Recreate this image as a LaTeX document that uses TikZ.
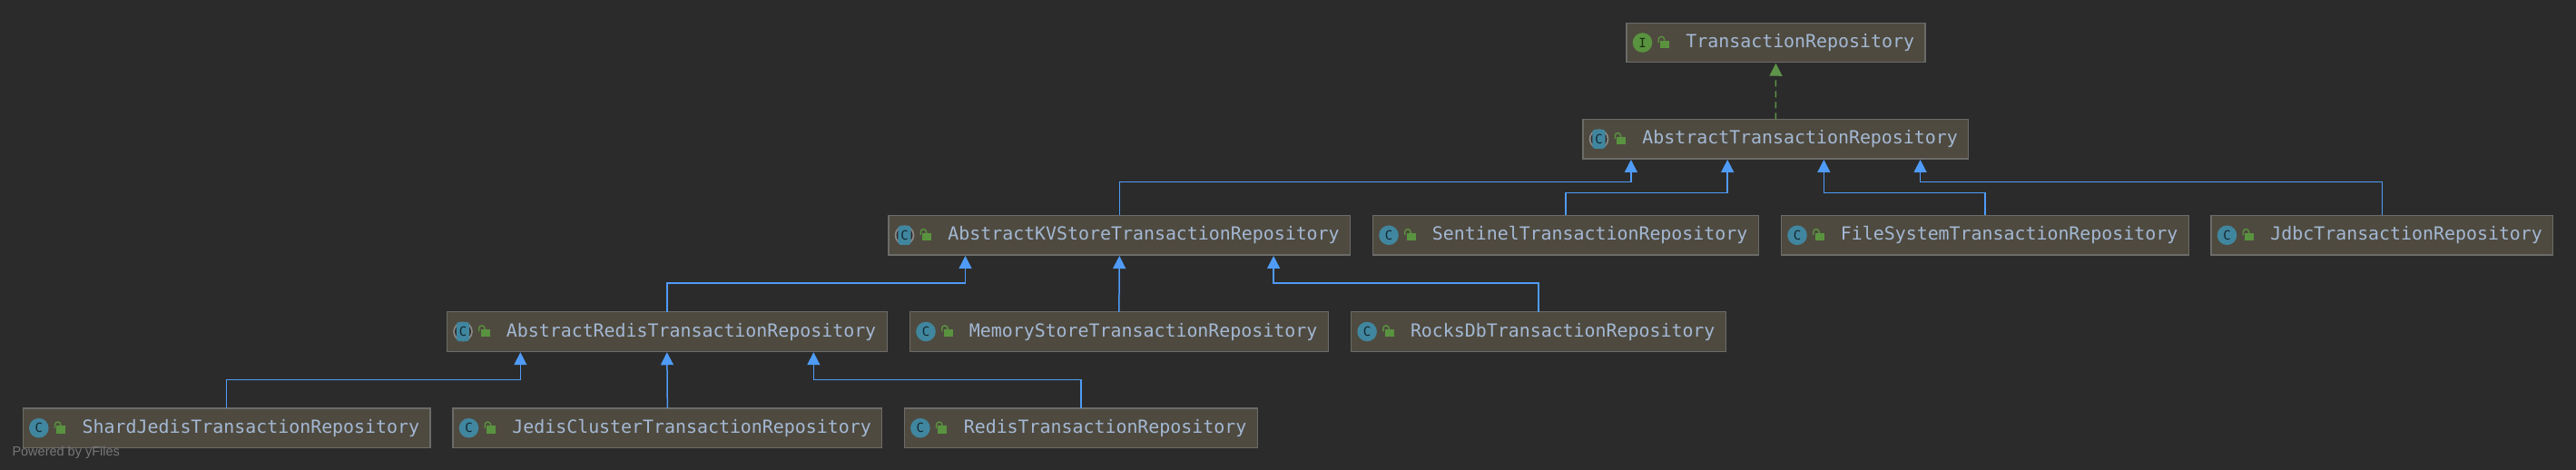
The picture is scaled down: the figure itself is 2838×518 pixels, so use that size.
\documentclass[tikz,border=0pt]{standalone}
\usepackage{fontspec}
\usetikzlibrary{arrows.meta}
\newfontfamily\repofont{DejaVu Sans Mono}
\newfontfamily\yfont{Liberation Sans}
\definecolor{canvasbg}{HTML}{2B2B2B}
\definecolor{repofill}{HTML}{4F4A3F}
\definecolor{repoline}{HTML}{6B6B68}
\definecolor{repotext}{HTML}{A3B8D4}
\definecolor{extendblue}{HTML}{4F9BF7}
\definecolor{implgreen}{HTML}{5E9449}
\definecolor{classteal}{HTML}{40869F}
\definecolor{lockgreen}{HTML}{59933F}
\tikzset{
  repo/.style={draw=repoline,fill=repofill,line width=1.2pt,text=repotext,anchor=west,outer sep=0pt,
    inner xsep=11.9pt,inner ysep=0pt,minimum height=43.5pt,text height=15.5pt,text depth=4pt,
    font=\repofont\fontsize{19.9}{24}\selectfont,execute at begin node=\hspace*{53.5pt}},
  extends/.style={draw=extendblue,line width=1.5pt,shorten >=1pt,-{Triangle[width=14pt,length=14pt]}},
  implements/.style={draw=implgreen,line width=1.5pt,shorten >=1pt,dash pattern=on 7pt off 5pt,
    -{Triangle[width=14pt,length=14pt,fill=implgreen]}},
  iconletter/.style={inner sep=0pt,font=\repofont\fontsize{14}{14}\selectfont},
  lockicon/.pic={
    \fill[lockgreen] (37,-2.4) rectangle (47,6);
    \draw[lockgreen,line width=1.4pt] (35.2,0) -- (35.2,-3.5) arc[start angle=180,end angle=360,radius=3.2] -- (41.6,-2.4);
  },
  classicon/.pic={
    \fill[classteal] (17.5,0) circle (10.8);
    \node[iconletter,text=black!70!classteal] (-c) at (17.5,0) {C};
    \pic {lockicon};
  },
  abstracticon/.pic={
    \fill[gray!90] (17.5,0) circle (10.8);
    \fill[repofill!60!black] (17.5,0) circle (9);
    \fill[classteal,rounded corners=3pt] (10.3,-10.6) rectangle (24.7,10.6);
    \node[iconletter,text=black!70!classteal] (-c) at (17.5,0) {C};
    \pic {lockicon};
  },
  ifaceicon/.pic={
    \fill[lockgreen] (17.5,0) circle (10.8);
    \node[iconletter,text=black!70!lockgreen] (-i) at (17.5,0) {I};
    \pic {lockicon};
  }
}
\begin{document}
\begin{tikzpicture}[x=1pt,y=-1pt]
 \fill[canvasbg] (0,0) rectangle (2838,518);
 \useasboundingbox (0,0) rectangle (2838,518);
 % first two rows
 \node[repo] (txrepo) at (1792,47) {TransactionRepository};
 \pic (txrepoicon) at (txrepo.west) {ifaceicon};
 \node[repo] (abstx) at (1744,153.25) {AbstractTransactionRepository};
 \pic (abstxicon) at (abstx.west) {abstracticon};
 % third row
 \node[repo] (kv) at (979,259.25) {AbstractKVStoreTransactionRepository};
 \pic (kvicon) at (kv.west) {abstracticon};
 \node[repo] (sentinel) at (1512.5,259.25) {SentinelTransactionRepository};
 \pic (sentinelicon) at (sentinel.west) {classicon};
 \node[repo] (filesystem) at (1962.5,259.25) {FileSystemTransactionRepository};
 \pic (filesystemicon) at (filesystem.west) {classicon};
 \node[repo] (jdbc) at (2436,259.25) {JdbcTransactionRepository};
 \pic (jdbcicon) at (jdbc.west) {classicon};
 % fourth row
 \node[repo] (absredis) at (492.5,365.5) {AbstractRedisTransactionRepository};
 \pic (absredisicon) at (absredis.west) {abstracticon};
 \node[repo] (memory) at (1002.5,365.5) {MemoryStoreTransactionRepository};
 \pic (memoryicon) at (memory.west) {classicon};
 \node[repo] (rocksdb) at (1488.6,365.5) {RocksDbTransactionRepository};
 \pic (rocksdbicon) at (rocksdb.west) {classicon};
 % last row
 \node[repo] (shard) at (25.3,471.75) {ShardJedisTransactionRepository};
 \pic (shardicon) at (shard.west) {classicon};
 \node[repo] (cluster) at (499,471.75) {JedisClusterTransactionRepository};
 \pic (clustericon) at (cluster.west) {classicon};
 \node[repo] (redis) at (996.4,471.75) {RedisTransactionRepository};
 \pic (redisicon) at (redis.west) {classicon};
 % connectors
 \draw[implements] (abstx.north) -- (txrepo.south);
 \draw[extends] (kv.north) -- ++(0,-37.2) -| ([xshift=-159.5pt]abstx.south);
 \draw[extends] (sentinel.north) -- ++(0,-25.2) -| ([xshift=-53.2pt]abstx.south);
 \draw[extends] (filesystem.north) -- ++(0,-25.2) -| ([xshift=53pt]abstx.south);
 \draw[extends] (jdbc.north) -- ++(0,-37.2) -| ([xshift=159.2pt]abstx.south);
 \draw[extends] (absredis.north) -- ++(0,-31.7) -| ([xshift=-169.8pt]kv.south);
 \draw[extends] (memory.north) -- (kv.south);
 \draw[extends] (rocksdb.north) -- ++(0,-31.7) -| ([xshift=169.8pt]kv.south);
 \draw[extends] (shard.north) -- ++(0,-31.7) -| ([xshift=-161.5pt]absredis.south);
 \draw[extends] (cluster.north) -- (absredis.south);
 \draw[extends] (redis.north) -- ++(0,-31.7) -| ([xshift=161.5pt]absredis.south);
 \node[anchor=west,inner sep=0pt,text=white!36!canvasbg,font=\yfont\fontsize{14.5}{18}\selectfont] (poweredby) at (13.3,499) {Powered by yFiles};
\end{tikzpicture}
\end{document}
